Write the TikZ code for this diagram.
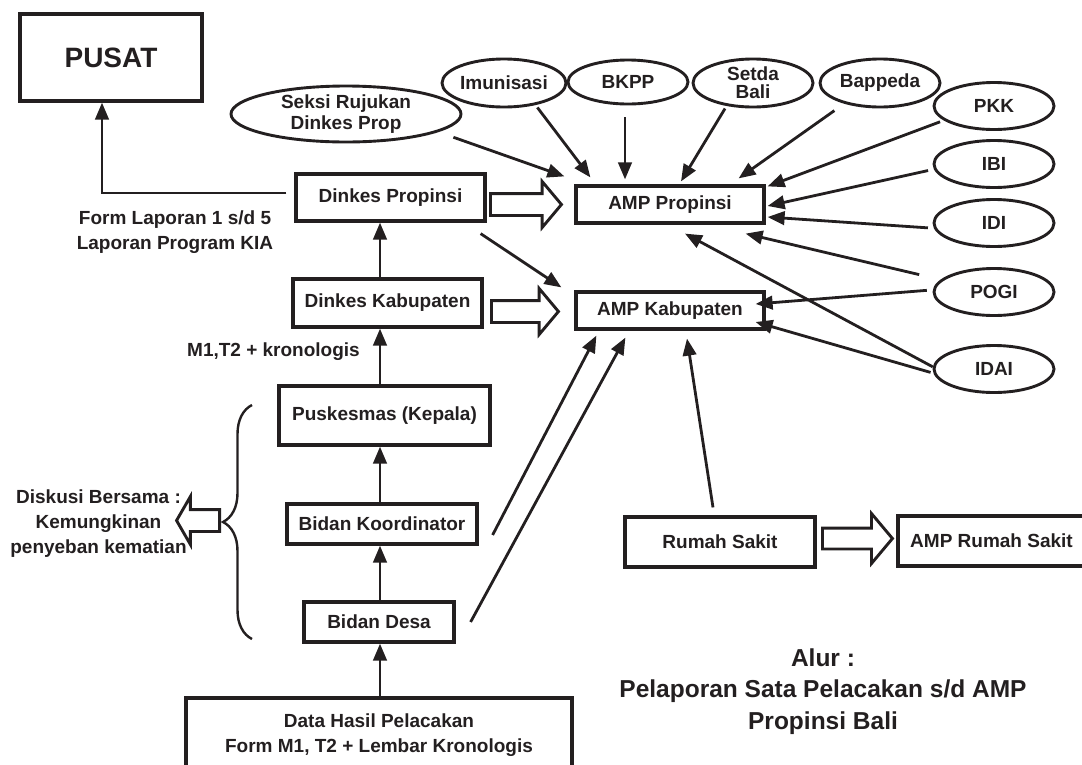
\documentclass[tikz,border=0pt]{standalone}
\usepackage{fontspec}
\setmainfont{Liberation Sans}
\usetikzlibrary{shapes.geometric,shapes.arrows,arrows.meta,calc,decorations.pathreplacing}
\definecolor{ink}{RGB}{35,31,32}

\begin{document}
\begin{tikzpicture}[x=1pt, y=-1pt,
 every text node part/.style={align=center},
 every node/.style={font=\bfseries\fontsize{19}{25}\selectfont, text=ink},
block/.style={rectangle, draw=ink, line width=3.2pt, inner sep=0pt},
oval/.style={ellipse, draw=ink, line width=2.9pt, inner sep=0pt, minimum width=120pt, minimum height=47pt},
str/.style={inner sep=0pt},
arrow/.style={-{Triangle[length=17pt,width=13.5pt]}, line width=2.8pt, draw=ink},
fat/.style={single arrow, draw=ink, line width=2.9pt, inner xsep=0pt, inner ysep=9.5pt, single arrow head extend=12pt, single arrow tip angle=100, anchor=tail}]

    \clip (0,0) rectangle (1082,764);

    \node[block, minimum width=182pt, minimum height=87pt, font=\bfseries\fontsize{28}{30}\selectfont] (pusat) at (111,57.5) {PUSAT};

	\node[oval, minimum width=230pt, minimum height=56pt, font=\bfseries\fontsize{19}{21}\selectfont] (seksi) at (346,114) {Seksi Rujukan\\Dinkes Prop};
	\node[oval, minimum height=48pt] (imun) at (504,83) {Imunisasi};
	\node[oval, minimum height=44pt] (bkpp) at (628,82) {BKPP};
	\node[oval, minimum height=48pt, font=\bfseries\fontsize{19}{18}\selectfont] (setda) at (753,83) {Setda\\Bali};
	\node[oval, minimum height=48pt] (bapp) at (880,83) {Bappeda};
	\node[oval] (pkk) at (994,106) {PKK};
	\node[oval] (ibi) at (994,164) {IBI};
	\node[oval] (idi) at (994,223) {IDI};
	\node[oval] (pogi) at (994,292) {POGI};
	\node[oval] (idai) at (994,369) {IDAI};

	\node[block, minimum width=188pt, minimum height=37pt] (ampp) at (670,204.5) {AMP Propinsi};
	\node[block, minimum width=188pt, minimum height=37pt] (ampk) at (670,310.5) {AMP Kabupaten};

	\node[block, minimum width=189pt, minimum height=47pt] (dprop) at (390.5,197.5) {Dinkes Propinsi};
	\node[block, minimum width=189pt, minimum height=48pt] (dkab) at (387.5,303) {Dinkes Kabupaten};
	\node[block, minimum width=211pt, minimum height=59pt] (pusk) at (384.5,415.5) {Puskesmas (Kepala)};
	\node[block, minimum width=190pt, minimum height=40pt] (bkoord) at (382,524) {Bidan Koordinator};
	\node[block, minimum width=150pt, minimum height=40pt] (bdesa) at (379,622) {Bidan Desa};
	\node[block, minimum width=386pt, minimum height=75pt] (data) at (379,735.5) {Data Hasil Pelacakan\\Form M1, T2 + Lembar Kronologis};

	\node[block, minimum width=190pt, minimum height=50pt] (rs) at (720,542) {Rumah Sakit};
	\node[block, minimum width=187pt, minimum height=50pt] (amprs) at (991.5,541) {AMP Rumah Sakit};

	\node[str] (form) at (175,232.5) {Form Laporan 1 s/d 5\\Laporan Program KIA};
	\node[str, anchor=east] (kron) at (360,352) {M1,T2 + kronologis};
	\node[str] (disk) at (98.5,523.5) {Diskusi Bersama :\\Kemungkinan\\penyeban kematian};
	\node[str, font=\bfseries\fontsize{24.5}{31.5}\selectfont] (title) at (823,691.5) {Alur :\\Pelaporan Sata Pelacakan s/d AMP\\Propinsi Bali};

	% hollow arrows
	\node[fat, minimum height=71pt] (f1) at (489,204.5) {};
	\node[fat, minimum height=67pt] (f2) at (490,311.5) {};
	\node[fat, minimum height=70pt, inner ysep=9pt, single arrow head extend=14.5pt] (f3) at (821,538.5) {};
	\node[fat, minimum height=43pt, shape border rotate=180, single arrow head extend=13pt, single arrow tip angle=120] (f4) at (221,520.5) {};

	\draw[decorate, decoration={brace, amplitude=29pt}, line width=2.4pt, draw=ink] (252,639) -- (252,405);

	% reporting chain
	\coordinate (spine) at (380,0);
	\draw (spine |- data.north) edge [arrow] (spine |- bdesa.south);
	\draw (spine |- bdesa.north) edge [arrow] (spine |- bkoord.south);
	\draw (spine |- bkoord.north) edge [arrow] (spine |- pusk.south);
	\draw (spine |- pusk.north) edge [arrow] (spine |- dkab.south);
	\draw (spine |- dkab.north) edge [arrow] (spine |- dprop.south);
	\draw[arrow, shorten <=8pt] ($(dprop.west)+(0,-4.5)$) -| ($(pusat.south)+(-9,0)$);

	% into AMP Propinsi
	\draw (seksi.-11) edge [arrow, shorten <=16pt] ($(ampp.north west)+(-10,-8)$);
	\draw (imun.-35) edge [arrow, shorten <=3pt] ($(ampp.north west)+(16,-7)$);
	\draw ($(bkpp.south)+(-3,0)$) edge [arrow, shorten <=12pt, shorten >=5pt] ($(bkpp.south |- ampp.north)+(-3,0)$);
	\draw (setda.-139) edge [arrow, shorten <=3pt] ($(ampp.north)+(11,-3)$);
	\draw (bapp.-150) edge [arrow, shorten <=12pt] ($(ampp.north east)+(-27,-6)$);
	\draw (pkk.-164) edge [arrow, shorten <=4pt] ($(ampp.north east)+(2,2)$);
	\draw (ibi.-175) edge [arrow, shorten <=6pt] ($(ampp.east)+(2,1.5)$);
	\draw (idi.-175) edge [arrow, shorten <=6pt] ($(ampp.east)+(2,12.5)$);
	\draw (pogi.167) edge [arrow, shorten <=22pt] ($(ampp.south east)+(-20,9)$);
	\draw (idai.178) edge [arrow] ($(ampp.south)+(15,9)$);

	% into AMP Kabupaten
	\draw (pogi.178) edge [arrow, shorten <=6pt] ($(ampk.east)+(-10,-6.5)$);
	\draw (idai.-176) edge [arrow, shorten <=3pt] ($(ampk.east)+(-10,11.5)$);
	\draw ($(dprop.south east)+(-6,11)$) edge [arrow] ($(ampk.north west)+(-13,-3)$);
	\draw ($(bkoord.east)+(14,11)$) edge [arrow] ($(ampk.south west)+(22,5)$);
	\draw ($(bdesa.east)+(15,0)$) edge [arrow] ($(ampk.south west)+(51,7)$);
	\draw ($(rs.north)+(-7,-8)$) edge [arrow] ($(ampk.south)+(17,8)$);
\end{tikzpicture}
\end{document}
